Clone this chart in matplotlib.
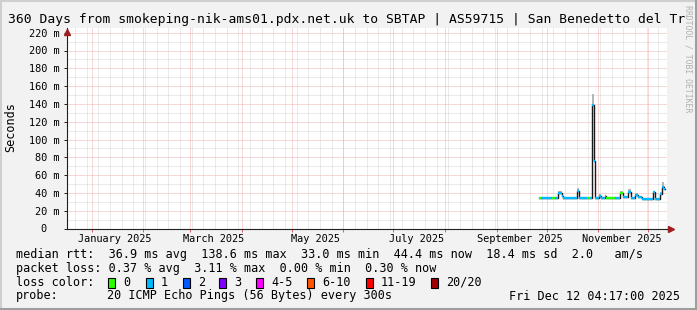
import datetime as dt
import matplotlib
matplotlib.use("Agg")
import matplotlib.pyplot as plt
from matplotlib.patches import Rectangle
from matplotlib.lines import Line2D
import numpy as np

# ---------------- data ----------------
span_days = 360
end_time = dt.datetime(2025, 12, 12, 4, 17)
start_time = end_time - dt.timedelta(days=span_days)

# segments of the median rtt (start day since graph start, value in ms, lost pings of 20, smoke spread ms)
seg_start = [283.4, 284.5, 290.8, 292.8, 294.8, 296.8, 297.8, 305.8, 307.4, 311.8,
             313.8, 315.2, 316.2, 317.0, 319.4, 320.6, 322.5, 323.6, 328.8, 331.8,
             333.4, 336.8, 338.4, 340.8, 342.8, 344.8, 351.8, 352.8, 355.8, 356.8, 358.0]
seg_end = 358.8
rtt_ms = [34.0, 34.0, 34.0, 34.5, 39.5, 36.0, 34.0, 42.0, 34.0, 34.0,
          34.0, 138.6, 76.0, 34.5, 37.0, 34.5, 36.0, 34.0, 34.0, 40.0,
          35.0, 41.5, 34.5, 37.5, 35.5, 33.0, 40.5, 33.0, 38.5, 46.5, 44.4]
loss_cnt = [0, 1, 0, 1, 1, 1, 1, 1, 1, 0,
            1, 1, 1, 1, 1, 1, 1, 0, 1, 0,
            1, 1, 1, 1, 1, 1, 1, 1, 1, 1, 1]
smoke_ms = [1, 1, 1, 1, 2.5, 1.5, 1, 3, 1, 1,
            1, 13, 8, 1, 2, 1, 1.5, 1, 1, 2,
            1, 3, 1, 2, 1.5, 1, 2, 1, 2, 6, 3]

loss_labels = ['0', '1', '2', '3', '4-5', '6-10', '11-19', '20/20']
loss_colors = ['#26ff00', '#00b8ff', '#0059ff', '#7e00ff', '#ff00fe', '#ff5500', '#ff0000', '#a10000']
loss_upper = [0, 1, 2, 3, 5, 10, 19, 20]

y_ticks = [0, 20, 40, 60, 80, 100, 120, 140, 160, 180, 200, 220]
month_labels = ['January 2025', 'March 2025', 'May 2025', 'July 2025',
                'September 2025', 'November 2025']
month_label_dates = [dt.datetime(2025, m, 15) for m in (1, 3, 5, 7, 9, 11)]

title = "360 Days from smokeping-nik-ams01.pdx.net.uk to SBTAP | AS59715 | San Benedetto del Tr"
legend_line1 = "median rtt:  36.9 ms avg  138.6 ms max  33.0 ms min  44.4 ms now  18.4 ms sd  2.0   am/s"
legend_line2 = "packet loss: 0.37 % avg  3.11 % max  0.00 % min  0.30 % now"
probe_text = "20 ICMP Echo Pings (56 Bytes) every 300s"
stamp_text = "Fri Dec 12 04:17:00 2025"

# ---------------- helpers ----------------
W, H = 697, 310
MONO = 'DejaVu Sans Mono'
BG = '#f2f2f2'
GRID = '#d6d6d6'
MGRID = '#f2b0b0'


def dpos(d):
    return (d - start_time).total_seconds() / 86400.0


def lcolor(n):
    for up, c in zip(loss_upper, loss_colors):
        if n <= up:
            return c
    return loss_colors[-1]


fig = plt.figure(figsize=(W / 100, H / 100), dpi=100, facecolor=BG)

ax_left, ax_right, ax_bottom, ax_top = 67, 667, 228.5, 28
ax = fig.add_axes([ax_left / W, (H - ax_bottom) / H, (ax_right - ax_left) / W, (ax_bottom - ax_top) / H])
ax.set_facecolor('white')
ax.set_xlim(0, span_days)
ymax = (ax_bottom - ax_top) / 0.89
ax.set_ylim(0, ymax)

# grid
dot = (0, (1, 1))
for yv in np.arange(10, ymax, 10):
    ax.axhline(yv, color=MGRID if yv % 20 == 0 else GRID, lw=0.72, ls=dot, zorder=1)

week = dt.datetime(2024, 12, 22)
while week < end_time:
    ax.axvline(dpos(week), color=GRID, lw=0.72, ls=dot, zorder=1)
    week += dt.timedelta(days=7)

month_starts = []
for m in range(1, 13):
    d = dt.datetime(2025, m, 1)
    if start_time < d < end_time:
        month_starts.append(dpos(d))
for p in month_starts:
    ax.axvline(p, color=MGRID, lw=0.72, ls=dot, zorder=1.5)

# data: smoke, connectors, coloured median
xs = np.array(seg_start + [seg_end])
vals = np.array(rtt_ms + [rtt_ms[-1]])
spr = np.array(smoke_ms + [smoke_ms[-1]])
ax.fill_between(xs, vals - np.minimum(1.0, spr * 0.3), vals + spr, step='post',
                color='#b5b5b5', lw=0, zorder=2)
ax.step(xs, vals, where='post', color='#1a1a1a', lw=1.0, zorder=3)
for i in range(len(seg_start)):
    x0 = seg_start[i]
    x1 = seg_start[i + 1] if i + 1 < len(seg_start) else seg_end
    ax.hlines(rtt_ms[i], x0, x1, color=lcolor(loss_cnt[i]), lw=1.7, zorder=4)

# axes
for s in ('top', 'right'):
    ax.spines[s].set_visible(False)
for s in ('left', 'bottom'):
    ax.spines[s].set_color('#202020')
    ax.spines[s].set_linewidth(0.8)
    ax.spines[s].set_zorder(5)

ax.set_yticks(y_ticks)
ax.set_yticklabels([("%d m" % v) if v else "0  " for v in y_ticks])
ax.tick_params(axis='y', length=2.2, width=0.7, color='#202020', pad=3.2,
               labelsize=7.4, labelfontfamily=MONO)

ax.set_xticks([dpos(d) for d in month_label_dates])
ax.set_xticklabels(month_labels)
ax.set_xticks(month_starts, minor=True)
ax.tick_params(axis='x', which='major', length=0, pad=4.0, labelsize=7.4, labelfontfamily=MONO)
ax.tick_params(axis='x', which='minor', length=2.2, width=0.7, color='#e06060')

# axis extension + arrows
ax.add_line(Line2D([1.0, (671 - ax_left) / 600], [0, 0], transform=ax.transAxes,
                   color='#202020', lw=0.8, clip_on=False, zorder=5))
ax.plot([(671 - ax_left) / 600], [0], marker='>', ms=4.5, color='#a01e1e',
        transform=ax.transAxes, clip_on=False, zorder=6, mec='#a01e1e')
ax.plot([0], [(ax_bottom - 32) / (ax_bottom - ax_top)], marker='^', ms=4.5, color='#a01e1e',
        transform=ax.transAxes, clip_on=False, zorder=6, mec='#a01e1e')


def ftext(x, y, s, **kw):
    kw.setdefault('family', MONO)
    kw.setdefault('va', 'center')
    kw.setdefault('fontsize', 8.5)
    return fig.text(x / W, 1 - y / H, s, **kw)


# title
ftext(8, 19, title, fontsize=9.4)
# watermark
ftext(688, 5, "RRDTOOL / TOBI OETIKER", fontsize=5.9, rotation=270, va='top', ha='center',
      color='#b0b0b0')
# y label
ftext(10.5, 127.5, "Seconds", rotation=90, ha='center')

# legend rows
ftext(16, 254.3, legend_line1)
ftext(16, 268.3, legend_line2)

ftext(16, 282.3, "loss color:")
sq_x = [108.3, 146, 182.7, 219.3, 256, 307.3, 365.7, 430.7]
for x, lab, c in zip(sq_x, loss_labels, loss_colors):
    fig.patches.append(Rectangle((x / W, 1 - (282.5 + 5) / H), 7 / W, 10 / H,
                                 transform=fig.transFigure, fc=c, ec='black', lw=0.8))
    ftext(x + 15, 282.3, lab)

ftext(16, 296, "probe:")
ftext(107.3, 296, probe_text)
ftext(680, 296, stamp_text, ha='right')

# frame shading
fig.add_artist(Line2D([0, 1], [1 - 1 / H, 1 - 1 / H], transform=fig.transFigure, color='#cfcfcf', lw=1.5))
fig.add_artist(Line2D([1 / W, 1 / W], [0, 1], transform=fig.transFigure, color='#cfcfcf', lw=1.5))
fig.add_artist(Line2D([0, 1], [1.5 / H, 1.5 / H], transform=fig.transFigure, color='#9e9e9e', lw=2.2))
fig.add_artist(Line2D([1 - 1.5 / W, 1 - 1.5 / W], [0, 1], transform=fig.transFigure, color='#9e9e9e', lw=2.2))

fig.savefig("out.png", dpi=100, facecolor=BG)
